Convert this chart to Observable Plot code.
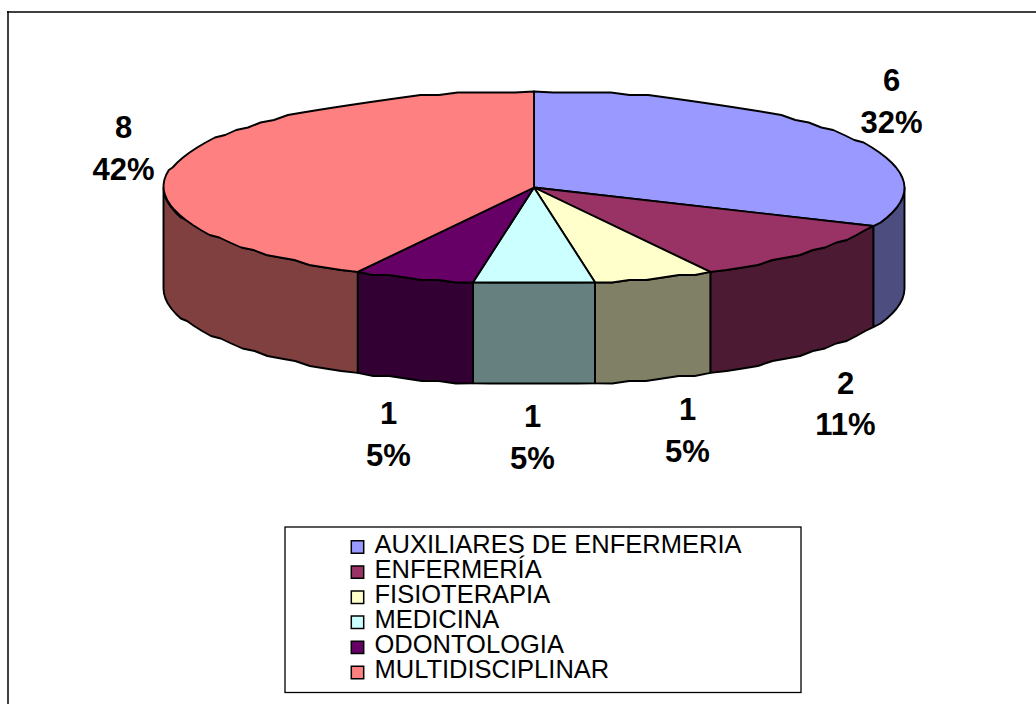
<!DOCTYPE html>
<html><head><meta charset="utf-8">
<script src="https://cdn.jsdelivr.net/npm/d3@7"></script>
<script src="https://cdn.jsdelivr.net/npm/@observablehq/plot@0.6"></script>
<style>html,body{margin:0;padding:0;background:#fff}svg{display:block}</style>
</head><body><div id="chart"></div>
<script>
const categories = ["AUXILIARES DE ENFERMERIA","ENFERMERÍA","FISIOTERAPIA","MEDICINA","ODONTOLOGIA","MULTIDISCIPLINAR"];
const counts = [6,2,1,1,1,8];
const percents = ["32%","11%","5%","5%","5%","42%"];
const topColors = ["#9999ff","#993366","#ffffcc","#ccffff","#660066","#ff8080"];
const sideColors = ["#4d4d80","#4d1a33","#808066","#668080","#330033","#804040"];

const W = 1036, H = 704;
const cx = 533.5, cy = 187, rx = 370.5, ry = 96, depth = 101;
const total = d3.sum(counts);
const px = (a) => cx + rx * Math.sin(a);
const py = (a) => cy - ry * Math.cos(a);
const step = (v) => Math.round(v / 2.5) * 2.5; // slightly stepped outline, like the low-res source
const arc = (a0, a1) => {
  const n = Math.max(2, Math.ceil((a1 - a0) / (Math.PI / 60)));
  const out = [];
  for (let i = 0; i <= n; i++) {
    const a = a0 + (a1 - a0) * i / n;
    const edge = i === 0 || i === n;
    out.push(edge ? [px(a), py(a)] : [px(a), cy + step(py(a) - cy)]);
  }
  return out;
};

let acc = 0;
const slices = counts.map((c, i) => {
  const a0 = acc / total * 2 * Math.PI;
  acc += c;
  const a1 = acc / total * 2 * Math.PI;
  return {i, c, a0, a1};
});

const topPolys = [], sidePolys = [];
for (const s of slices) {
  const pts = [[cx, cy], ...arc(s.a0, s.a1), [cx, cy]];
  topPolys.push(pts.map(([x, y]) => ({x, y, i: s.i})));
  // front wall: only the part of the rim facing the viewer
  const lo = Math.max(s.a0, Math.PI / 2), hi = Math.min(s.a1, 3 * Math.PI / 2);
  if (hi > lo) {
    const rim = arc(lo, hi);
    const wall = [...rim, ...rim.slice().reverse().map(([x, y]) => [x, y + depth])];
    wall.push(rim[0]);
    sidePolys.push(wall.map(([x, y]) => ({x, y, i: s.i})));
  }
}

// data labels: [x, y of count, y of percent]
const labelPos = [[891,81,123],[845,384,425],[687,410,452],[532,417,459],[388,414,456],[123,128,170]];
const labelRows = counts.flatMap((c, i) => [
  {x: labelPos[i][0], y: labelPos[i][1], t: String(c)},
  {x: labelPos[i][0], y: labelPos[i][2], t: percents[i]}
]);

const legendRows = categories.map((name, i) => ({name, i,
  ty: 544 + i * 25.1, sy: 546.5 + i * 25.1}));

const chart = Plot.plot({
  width: W, height: H,
  margin: 0,
  style: {background: "#fff", fontFamily: "'Liberation Sans', Arial, sans-serif"},
  x: {domain: [0, W], range: [0, W], axis: null},
  y: {domain: [0, H], range: [0, H], axis: null},
  marks: [
    Plot.ruleY([11.5], {x1: 7, x2: W, stroke: "#000", strokeWidth: 1.5}),
    Plot.ruleX([7.5], {y1: 11, y2: H, stroke: "#000", strokeWidth: 1.5}),
    ...sidePolys.map((rows) => Plot.line(rows, {x: "x", y: "y", z: null, fill: (d) => sideColors[d.i], stroke: "#000", strokeWidth: 1.9, strokeLinejoin: "round", curve: "linear"})),
    ...topPolys.map((rows) => Plot.line(rows, {x: "x", y: "y", z: null, fill: (d) => topColors[d.i], stroke: "#000", strokeWidth: 1.9, strokeLinejoin: "round", curve: "linear"})),
    Plot.text(labelRows, {x: "x", y: "y", text: "t", fontSize: 31, fontWeight: "bold", fill: "#000"}),
    Plot.rect([{a: 285, b: 801, c: 527, d: 692.5}], {x1: "a", x2: "b", y1: "c", y2: "d", fill: "#fff", stroke: "#000", strokeWidth: 1.3}),
    Plot.dot(legendRows, {x: () => 357, y: "sy", symbol: "square", r: 7, fill: (d) => topColors[d.i], stroke: "#000", strokeWidth: 1.5}),
    Plot.text(legendRows, {x: () => 374, y: "ty", text: "name", textAnchor: "start", fontSize: 25.5, fill: "#000"})
  ]
});
document.getElementById("chart").append(chart);
</script></body></html>
